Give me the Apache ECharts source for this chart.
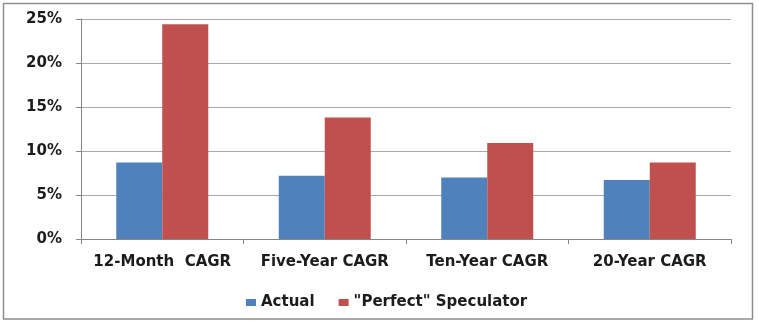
<!DOCTYPE html>
<html>
<head>
<meta charset="utf-8">
<script src="https://cdn.jsdelivr.net/npm/echarts@6/dist/echarts.min.js"></script>
<style>
  html, body { margin: 0; padding: 0; background: #ffffff; }
  #chart { width: 759px; height: 326px; }
</style>
</head>
<body>
<div id="chart"></div>
<script>
// Compound annual growth rates, in percent
const categories = ['12-Month  CAGR', 'Five-Year CAGR', 'Ten-Year CAGR', '20-Year CAGR'];
const actual = [8.7, 7.2, 7.0, 6.7];
const perfectSpeculator = [24.4, 13.8, 10.9, 8.7];
const seriesNames = ['Actual', '"Perfect" Speculator'];
const yTicks = [0, 5, 10, 15, 20, 25];

const FONT = '"DejaVu Sans", sans-serif';
const labelStyle = { fontFamily: FONT, fontWeight: 'bold', fontSize: 15, color: '#1c1c1c' };

const chart = echarts.init(document.getElementById('chart'), null, { renderer: 'canvas' });

chart.setOption({
  backgroundColor: '#ffffff',
  animation: false,
  graphic: [{
    type: 'rect',
    shape: { x: 3.5, y: 3.5, width: 749, height: 315.5 },
    style: { fill: 'none', stroke: '#8e8e8e', lineWidth: 1.5 },
    silent: true
  }],
  grid: { left: 81, right: 28, top: 19, bottom: 87, containLabel: false },
  legend: {
    left: 241,
    top: 290,
    itemWidth: 10,
    itemHeight: 7,
    itemGap: 24,
    icon: 'rect',
    textStyle: Object.assign({}, labelStyle, { padding: [0, 0, 0, 0] }),
    data: seriesNames
  },
  xAxis: {
    type: 'category',
    data: categories,
    boundaryGap: true,
    axisLine: { lineStyle: { color: '#868686', width: 1 } },
    axisTick: { show: true, length: 5, alignWithLabel: false, lineStyle: { color: '#868686' } },
    axisLabel: Object.assign({}, labelStyle, { margin: 16, interval: 0 }),
    splitLine: { show: false }
  },
  yAxis: {
    type: 'value',
    min: yTicks[0],
    max: yTicks[yTicks.length - 1],
    interval: 5,
    axisLine: { show: true, lineStyle: { color: '#868686', width: 1 } },
    axisTick: { show: true, length: 5, lineStyle: { color: '#868686' } },
    axisLabel: Object.assign({}, labelStyle, {
      margin: 19,
      formatter: function (v) { return v + '%'; }
    }),
    splitLine: { show: true, lineStyle: { color: '#a8a8a8', width: 1 } }
  },
  series: [
    {
      name: seriesNames[0],
      type: 'bar',
      data: actual,
      barWidth: 46,
      barGap: '0%',
      itemStyle: { color: '#4f81bd' }
    },
    {
      name: seriesNames[1],
      type: 'bar',
      data: perfectSpeculator,
      barWidth: 46,
      barGap: '0%',
      itemStyle: { color: '#c0504d' }
    }
  ]
});
</script>
</body>
</html>
